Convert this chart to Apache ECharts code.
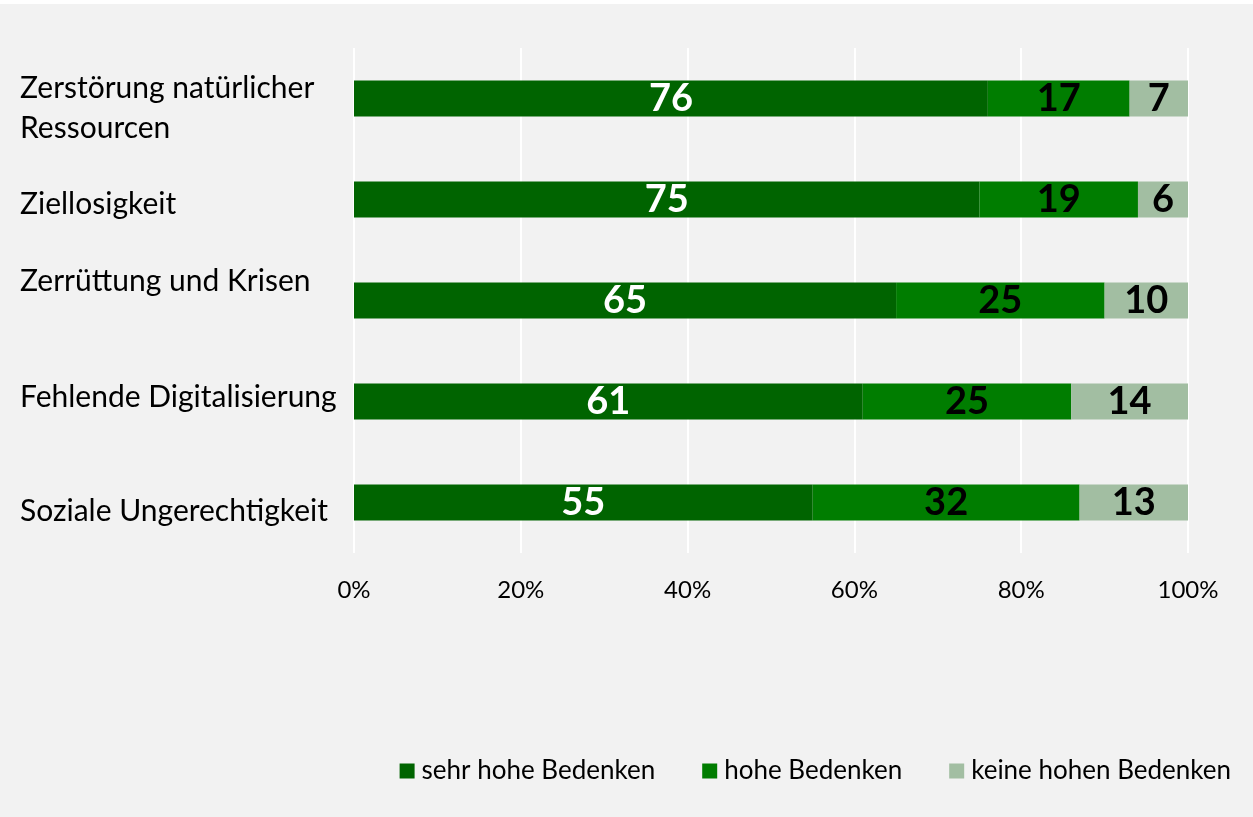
<!DOCTYPE html>
<html>
<head>
<meta charset="utf-8">
<script src="https://cdn.jsdelivr.net/npm/echarts@6/dist/echarts.min.js"></script>
<style>
html,body{margin:0;padding:0;background:#ffffff;}
#c{position:absolute;left:0;top:4px;width:1253px;height:813px;background:#f2f2f2;}
</style>
</head>
<body>
<div id="c"></div>
<script>
var categories = ['Zerstörung natürlicher\nRessourcen', 'Ziellosigkeit', 'Zerrüttung und Krisen', 'Fehlende Digitalisierung', 'Soziale Ungerechtigkeit'];
var seriesNames = ['sehr hohe Bedenken', 'hohe Bedenken', 'keine hohen Bedenken'];
var sehrHoch = [76, 75, 65, 61, 55];
var hoch = [17, 19, 25, 25, 32];
var keineHohen = [7, 6, 10, 14, 13];
var xTicks = [0, 20, 40, 60, 80, 100];

var FONT = 'Lato';
var chart = echarts.init(document.getElementById('c'));

// per-category vertical label placement styles
var labelStyle = [null, 's1', 's2', 's3', 's4'];

function mkSeries(name, data, color, labelColor) {
  return {
    name: name,
    type: 'bar',
    stack: 'total',
    data: data,
    barWidth: 36,
    itemStyle: { color: color },
    label: {
      show: true,
      position: 'inside',
      color: labelColor,
      fontFamily: FONT,
      fontWeight: 'bold',
      fontSize: 38
    }
  };
}

chart.setOption({
  backgroundColor: '#f2f2f2',
  animation: false,
  grid: { left: 354, right: 65, top: 44, bottom: 264, containLabel: false },
  xAxis: {
    type: 'value',
    min: 0,
    max: 100,
    interval: 20,
    axisLine: { show: false },
    axisTick: { show: false },
    splitLine: { show: true, lineStyle: { color: '#ffffff', width: 2 } },
    axisLabel: {
      margin: 25,
      color: '#000000',
      fontFamily: FONT,
      fontSize: 24,
      formatter: function (v) { return v + '%'; }
    }
  },
  yAxis: {
    type: 'category',
    inverse: true,
    data: categories,
    axisLine: { show: false },
    axisTick: { show: false },
    splitLine: { show: false },
    axisLabel: {
      align: 'left',
      margin: 334,
      color: '#000000',
      fontFamily: FONT,
      fontSize: 30,
      lineHeight: 40,
      padding: [20, 0, 0, 0],
      formatter: function (v, i) {
        var st = labelStyle[i];
        if (!st) { return v; }
        return '{' + st + '|' + v + '}';
      },
      rich: {
        s1: { fontFamily: FONT, fontSize: 30, color: '#000', padding: [0, 0, 10, 0] },
        s2: { fontFamily: FONT, fontSize: 30, color: '#000', padding: [0, 0, 58, 0] },
        s3: { fontFamily: FONT, fontSize: 30, color: '#000', padding: [0, 0, 28, 0] },
        s4: { fontFamily: FONT, fontSize: 30, color: '#000', padding: [0, 0, 2, 0] }
      }
    }
  },
  legend: {
    right: 17,
    top: 749,
    itemWidth: 15,
    itemHeight: 15,
    itemGap: 47,
    icon: 'rect',
    data: seriesNames,
    textStyle: { fontFamily: FONT, fontSize: 26, color: '#000', padding: [0, 0, 0, 2] }
  },
  series: [
    mkSeries(seriesNames[0], sehrHoch, '#006400', '#ffffff'),
    mkSeries(seriesNames[1], hoch, '#007d00', '#000000'),
    mkSeries(seriesNames[2], keineHohen, '#a2bea2', '#000000')
  ]
});
</script>
</body>
</html>
